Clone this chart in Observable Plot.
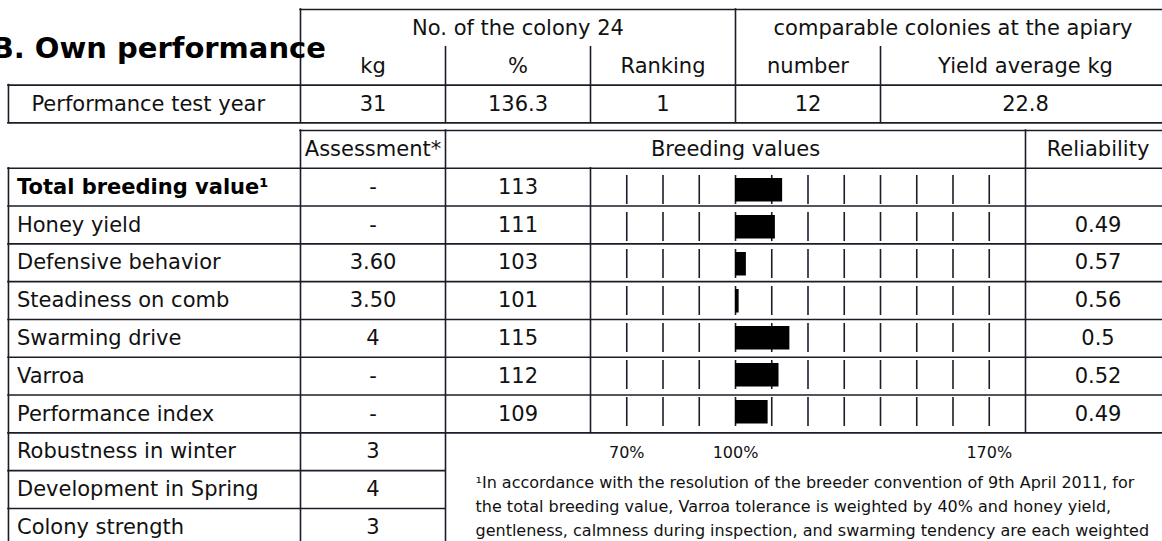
<!DOCTYPE html>
<html>
<head>
<meta charset="utf-8">
<script src="https://cdn.jsdelivr.net/npm/d3@7"></script>
<script src="https://cdn.jsdelivr.net/npm/@observablehq/plot@0.6"></script>
<style>
  html, body { margin: 0; padding: 0; background: #fff; }
  #chart { position: relative; width: 1162px; height: 541px; overflow: hidden; font-family: "DejaVu Sans", sans-serif; }
  #chart svg { position: absolute; left: 0; top: 0; }
</style>
</head>
<body>
<div id="chart"></div>
<script>
// ---------- data ----------
const title = "B. Own performance";
const topGroupHeaders = ["No. of the colony 24", "comparable colonies at the apiary"];
const topColumnHeaders = ["kg", "%", "Ranking", "number", "Yield average kg"];
const topRowLabel = "Performance test year";
const topRowValues = ["31", "136.3", "1", "12", "22.8"];

const lowerHeaders = ["Assessment*", "Breeding values", "Reliability"];
const traits = ["Total breeding value¹", "Honey yield", "Defensive behavior", "Steadiness on comb", "Swarming drive", "Varroa", "Performance index"];
const assessments = ["-", "-", "3.60", "3.50", "4", "-", "-"];
const breedingValues = [113, 111, 103, 101, 115, 112, 109];
const reliabilities = ["", "0.49", "0.57", "0.56", "0.5", "0.52", "0.49"];
const extraTraits = ["Robustness in winter", "Development in Spring", "Colony strength"];
const extraAssessments = ["3", "4", "3"];

const gridTicks = [70, 80, 90, 100, 110, 120, 130, 140, 150, 160, 170];
const labelTicks = [70, 100, 170];
const baseline = 100;
const footnote = [
  "¹In accordance with the resolution of the breeder convention of 9th April 2011, for",
  "the total breeding value, Varroa tolerance is weighted by 40% and honey yield,",
  "gentleness, calmness during inspection, and swarming tendency are each weighted"
];

// ---------- layout (grid units: columns / rows) ----------
const W = 1162, H = 541;
const colPx = [10, 155];          // column unit 0 -> 1 in pixels
const rowPx = [9, 46.8];          // row unit 0 -> 1 in pixels
const L = -0.014, R = 8.1;        // left / right table edges (column units)
const o = 3.2;                    // start row of lower table
const lineColor = "#1c1c28";
const textColor = "#111";
const fs = 21;

// grid lines
const hLines = [
  {r: 0, u1: 2, u2: R}, {r: 2, u1: L, u2: R}, {r: 3, u1: L, u2: R},
  {r: o, u1: 2, u2: R},
  ...d3.range(1, 9).map(k => ({r: o + k, u1: L, u2: R})),
  ...d3.range(9, 12).map(k => ({r: o + k, u1: L, u2: 3}))
];
const vLines = [
  {u: 2, r1: 0, r2: 3}, {u: 5, r1: 0, r2: 3},
  {u: 3, r1: 1, r2: 3}, {u: 4, r1: 1, r2: 3}, {u: 6, r1: 1, r2: 3},
  {u: L, r1: 2, r2: 3},
  {u: L, r1: o + 1, r2: o + 11}, {u: 2, r1: o, r2: o + 11}, {u: 3, r1: o, r2: o + 11},
  {u: 4, r1: o + 1, r2: o + 8}, {u: 7, r1: o, r2: o + 8}
];

// text cells
const topColCenters = [2.5, 3.5, 4.5, 5.5, 7];
const cells = [
  {u: 3.5, r: 0.5, t: topGroupHeaders[0]},
  {u: 6.5, r: 0.5, t: topGroupHeaders[1]},
  ...topColumnHeaders.map((t, i) => ({u: topColCenters[i], r: 1.5, t})),
  {u: 0.95, r: 2.5, t: topRowLabel},
  ...topRowValues.map((t, i) => ({u: topColCenters[i], r: 2.5, t})),
  {u: 2.5, r: o + 0.5, t: lowerHeaders[0]},
  {u: 5, r: o + 0.5, t: lowerHeaders[1]},
  {u: 7.5, r: o + 0.5, t: lowerHeaders[2]},
  ...assessments.map((t, i) => ({u: 2.5, r: o + 1.5 + i, t})),
  ...breedingValues.map((t, i) => ({u: 3.5, r: o + 1.5 + i, t: String(t)})),
  ...reliabilities.map((t, i) => ({u: 7.5, r: o + 1.5 + i, t})),
  ...extraAssessments.map((t, i) => ({u: 2.5, r: o + 8.5 + i, t}))
];
const labelCells = [
  ...traits.map((t, i) => ({r: o + 1.5 + i, t, bold: i === 0})),
  ...extraTraits.map((t, i) => ({r: o + 8.5 + i, t, bold: false}))
];
const footCells = footnote.map((t, i) => ({r: 12.53 + i * 0.635, t}));

const tablePlot = Plot.plot({
  width: W, height: H,
  margin: 0,
  x: {type: "linear", domain: [0, 1], range: colPx, axis: null},
  y: {type: "linear", domain: [0, 1], range: rowPx, axis: null},
  style: {background: "transparent", fontFamily: "DejaVu Sans", color: textColor},
  marks: [
    Plot.ruleY(hLines, {y: "r", x1: "u1", x2: "u2", stroke: lineColor, strokeWidth: 1.6, strokeLinecap: "square"}),
    Plot.ruleX(vLines, {x: "u", y1: "r1", y2: "r2", stroke: lineColor, strokeWidth: 1.6, strokeLinecap: "square"}),
    Plot.text(cells, {x: "u", y: "r", text: "t", fontSize: fs, fill: textColor, textAnchor: "middle"}),
    Plot.text(labelCells.filter(d => !d.bold), {x: L, y: "r", text: "t", fontSize: fs, fill: textColor, textAnchor: "start", dx: 8.5}),
    Plot.text(labelCells.filter(d => d.bold), {x: L, y: "r", text: "t", fontSize: fs, fill: "#000", textAnchor: "start", dx: 8.5, fontWeight: "bold"}),
    Plot.text(footCells, {x: 3.207, y: "r", text: "t", fontSize: 16, fill: textColor, textAnchor: "start"}),
    Plot.text([title], {x: -0.13, y: 1.05, text: d => d, fontSize: 29, fontWeight: "bold", fill: "#000", textAnchor: "start"})
  ]
});

// ---------- breeding value bars ----------
const yTop = rowPx[0] + (rowPx[1] - rowPx[0]) * (o + 1);
const yBottom = rowPx[0] + (rowPx[1] - rowPx[0]) * (o + 8);
const xLeft = colPx[0] + (colPx[1] - colPx[0]) * 4;
const xRight = colPx[0] + (colPx[1] - colPx[0]) * 7;

const barData = traits.map((trait, i) => ({trait, value: breedingValues[i]}));
const gridData = traits.flatMap(trait => gridTicks.map(v => ({trait, v})));

const barPlot = Plot.plot({
  width: W, height: H,
  marginLeft: xLeft, marginRight: W - xRight, marginTop: yTop, marginBottom: H - yBottom,
  x: {type: "linear", domain: [60, 180]},
  y: {type: "band", domain: traits, padding: 0, axis: null},
  style: {background: "transparent", fontFamily: "DejaVu Sans", color: textColor},
  marks: [
    Plot.tickX(gridData, {x: "v", y: "trait", stroke: lineColor, strokeWidth: 1.6, insetTop: 4, insetBottom: 4}),
    Plot.barX(barData, {x1: d => baseline, x2: "value", y: "trait", fill: "#000", insetTop: 7, insetBottom: 6.5}),
    Plot.axisX(labelTicks, {anchor: "bottom", tickSize: 0, tickPadding: 14, tickFormat: d => d + "%", fontSize: 16, fill: textColor})
  ]
});

const root = document.getElementById("chart");
root.appendChild(tablePlot);
root.appendChild(barPlot);
</script>
</body>
</html>
